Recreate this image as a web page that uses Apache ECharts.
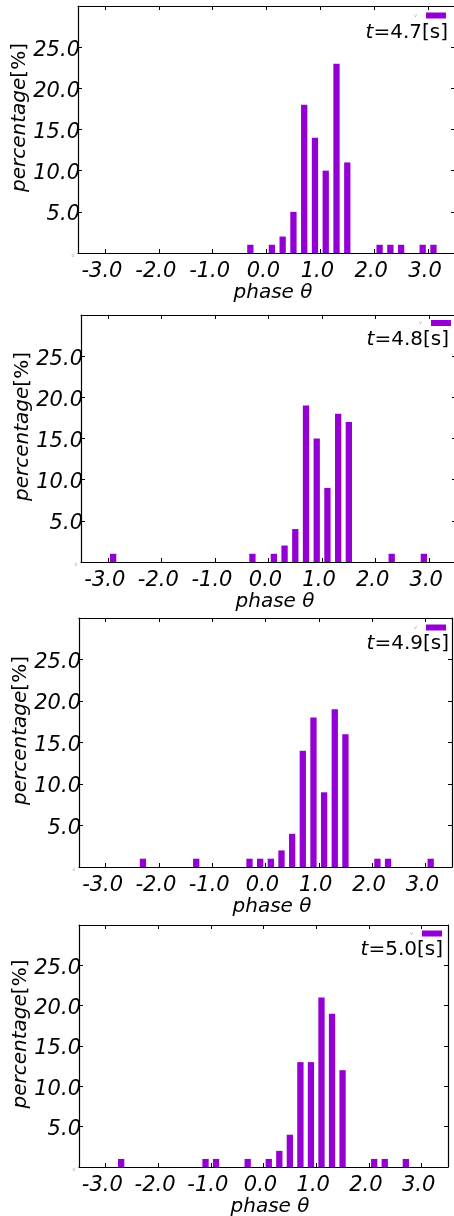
<!DOCTYPE html>
<html><head><meta charset="utf-8">
<script src="https://cdn.jsdelivr.net/npm/echarts@6/dist/echarts.min.js"></script>
<style>html,body{margin:0;padding:0;background:#fff}#c{width:454px;height:1216px}</style>
</head><body><div id="c"></div>
<script>
// bin centres of the phase histogram (rad)
const binCenters = [-3.1,-2.9,-2.7,-2.5,-2.3,-2.1,-1.9,-1.7,-1.5,-1.3,-1.1,-0.9,-0.7,-0.5,-0.3,-0.1,
                    0.1,0.3,0.5,0.7,0.9,1.1,1.3,1.5,1.7,1.9,2.1,2.3,2.5,2.7,2.9,3.1];
const times = ['4.7','4.8','4.9','5.0'];
const pct47 = [0,0,0,0,0,0,0,0,0,0,0,0,0,0,1,0, 1,2,5,18,14,10,23,11,0,0,1,1,1,0,1,1];
const pct48 = [0,1,0,0,0,0,0,0,0,0,0,0,0,0,1,0, 1,2,4,19,15,9,18,17,0,0,0,1,0,0,1,0];
const pct49 = [0,0,0,0,1,0,0,0,0,1,0,0,0,0,1,1, 1,2,4,14,18,9,19,16,0,0,1,1,0,0,0,1];
const pct50 = [0,0,1,0,0,0,0,0,0,0,1,1,0,0,1,0, 1,2,4,13,13,21,19,12,0,0,1,1,0,1,0,0];
const xTickValues = [-3,-2,-1,0,1,2,3];
const yTickValues = [0,5,10,15,20,25];

const seriesValues = [pct47, pct48, pct49, pct50];
const FONT = 'DejaVu Sans';
const panels = [
  {left:78, top:6,   width:377, height:247, titleRight:6, titleTop:23,  legRight:8,  legTop:12.5},
  {left:81, top:315, width:375, height:247, titleRight:5, titleTop:330, legRight:3,  legTop:320},
  {left:79, top:618, width:373, height:249, titleRight:5, titleTop:634, legRight:8,  legTop:624.5},
  {left:79, top:925, width:369, height:242, titleRight:11,titleTop:940, legRight:12, legTop:930.5}
];

const black = '#000';
const grids = [], xAxes = [], yAxes = [], titles = [], legends = [], series = [];
panels.forEach((p, i) => {
  grids.push({left:p.left, top:p.top, width:p.width, height:p.height, containLabel:false,
    outerBoundsMode:'none'});
  xAxes.push({
    type:'value', gridIndex:i, position:'bottom', min:-3.5, max:3.5,
    axisLine:{show:true, onZero:false, lineStyle:{color:black, width:1.2}},
    axisTick:{show:true, inside:true, length:4, customValues:xTickValues, lineStyle:{color:black, width:1}},
    axisLabel:{show:true, customValues:xTickValues, formatter:v=>v.toFixed(1), margin:8,
      fontSize:21, fontStyle:'italic', fontFamily:FONT, color:black, padding:[0,6,0,0]},
    splitLine:{show:false},
    name:'phase θ', nameLocation:'middle', nameGap:30, nameMoveOverlap:false,
    nameTextStyle:{fontSize:20, fontStyle:'italic', fontFamily:FONT, color:black, padding:[0,0,0,13]}
  });
  xAxes.push({
    type:'value', gridIndex:i, position:'top', min:-3.5, max:3.5,
    axisLine:{show:true, onZero:false, lineStyle:{color:black, width:1.2}},
    axisTick:{show:true, inside:true, length:4, customValues:xTickValues, lineStyle:{color:black, width:1}},
    axisLabel:{show:false}, splitLine:{show:false}
  });
  yAxes.push({
    type:'value', gridIndex:i, position:'left', min:0, max:30, interval:5,
    axisLine:{show:true, onZero:false, lineStyle:{color:black, width:1.2}},
    axisTick:{show:true, inside:true, length:4, customValues:yTickValues, lineStyle:{color:black, width:1}},
    axisLabel:{show:true, customValues:yTickValues, margin:-2,
      formatter:v=> v===0 ? '{s|0}' : v.toFixed(1),
      fontSize:21, fontStyle:'italic', fontFamily:FONT, color:black, padding:[6,0,0,0],
      rich:{s:{fontSize:4, color:'#999', fontStyle:'normal', padding:[0,6,0,0]}}},
    splitLine:{show:false},
    name:'{i|percentage}[%]', nameLocation:'middle', nameGap:48, nameMoveOverlap:false,
    nameTextStyle:{fontSize:20, fontFamily:FONT, color:black, padding:[0,0,0,24],
      rich:{i:{fontSize:20, fontFamily:FONT, fontStyle:'italic', color:black}}}
  });
  yAxes.push({
    type:'value', gridIndex:i, position:'right', min:0, max:30, interval:5,
    axisLine:{show:true, onZero:false, lineStyle:{color:black, width:1.2}},
    axisTick:{show:true, inside:true, length:4, lineStyle:{color:black, width:1}},
    axisLabel:{show:false}, splitLine:{show:false}
  });
  const name = 't=' + times[i];
  titles.push({
    text:'{i|t}=' + times[i] + '[s]', right:p.titleRight, top:p.titleTop, padding:0,
    textStyle:{fontSize:20, fontWeight:'normal', fontFamily:FONT, color:black,
      rich:{i:{fontSize:20, fontStyle:'italic', fontFamily:FONT, color:black}}}
  });
  legends.push({
    data:[name], right:p.legRight, top:p.legTop, padding:0, align:'right', orient:'vertical',
    itemWidth:20, itemHeight:6, icon:'rect', itemGap:0, selectedMode:false,
    formatter:()=>'v', textStyle:{fontSize:5, color:'#aaa', fontFamily:FONT, padding:[0,4,0,0]}
  });
  series.push({
    type:'bar', name:name, xAxisIndex:2*i, yAxisIndex:2*i, barWidth:6.3,
    itemStyle:{color:'#9400D3'},
    data: binCenters.map((c, j) => [c, seriesValues[i][j]]).filter(d => d[1] > 0)
  });
});

const chart = echarts.init(document.getElementById('c'), null, {renderer:'canvas'});
chart.setOption({
  animation:false, backgroundColor:'#fff',
  grid:grids, xAxis:xAxes, yAxis:yAxes, title:titles, legend:legends, series:series
});
</script></body></html>
